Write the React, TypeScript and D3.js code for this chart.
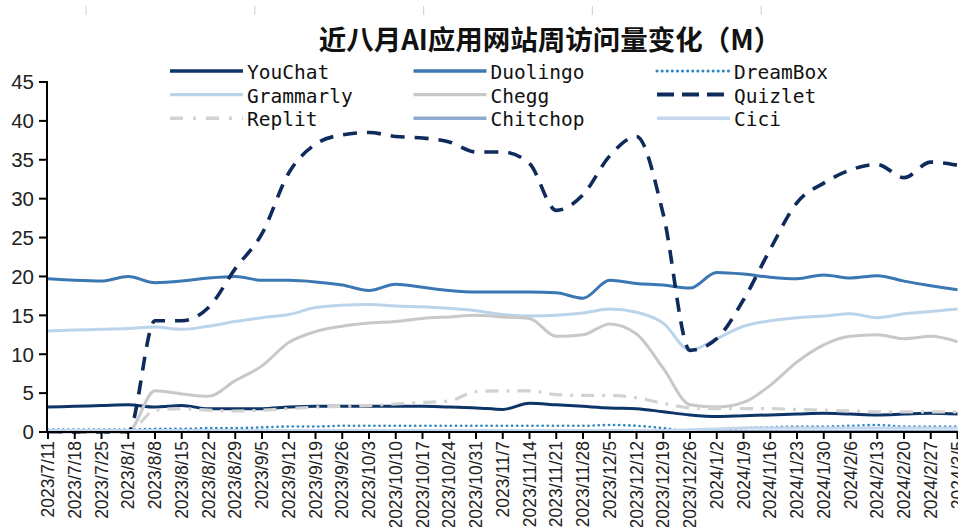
import * as d3 from "d3";

const dates = [
  "2023/7/11", "2023/7/18", "2023/7/25", "2023/8/1", "2023/8/8", "2023/8/15", "2023/8/22",
  "2023/8/29", "2023/9/5", "2023/9/12", "2023/9/19", "2023/9/26", "2023/10/3", "2023/10/10",
  "2023/10/17", "2023/10/24", "2023/10/31", "2023/11/7", "2023/11/14", "2023/11/21", "2023/11/28",
  "2023/12/5", "2023/12/12", "2023/12/19", "2023/12/26", "2024/1/2", "2024/1/9", "2024/1/16",
  "2024/1/23", "2024/1/30", "2024/2/6", "2024/2/13", "2024/2/20", "2024/2/27", "2024/3/5",
];

const youChat = [3.2, 3.3, 3.4, 3.5, 3.2, 3.4, 3.0, 3.0, 3.0, 3.2, 3.3, 3.3, 3.3, 3.3, 3.3, 3.2, 3.1, 2.9, 3.7, 3.5, 3.3, 3.1, 3.0, 2.6, 2.2, 2.0, 2.1, 2.2, 2.3, 2.4, 2.3, 2.2, 2.3, 2.4, 2.3];
const duolingo = [19.7, 19.5, 19.4, 20.0, 19.2, 19.4, 19.8, 20.0, 19.5, 19.5, 19.3, 18.9, 18.2, 19.0, 18.6, 18.2, 18.0, 18.0, 18.0, 17.9, 17.2, 19.5, 19.1, 18.9, 18.5, 20.5, 20.3, 19.9, 19.7, 20.2, 19.8, 20.1, 19.4, 18.8, 18.3];
const dreamBox = [0.3, 0.3, 0.3, 0.3, 0.4, 0.4, 0.5, 0.5, 0.6, 0.7, 0.7, 0.8, 0.8, 0.8, 0.8, 0.8, 0.8, 0.8, 0.8, 0.8, 0.8, 0.9, 0.8, 0.5, 0.1, 0.2, 0.5, 0.6, 0.7, 0.7, 0.8, 0.9, 0.7, 0.7, 0.7];
const grammarly = [13.0, 13.1, 13.2, 13.3, 13.5, 13.2, 13.6, 14.2, 14.7, 15.1, 16.0, 16.3, 16.4, 16.2, 16.1, 15.9, 15.6, 15.1, 14.9, 15.0, 15.3, 15.8, 15.4, 14.0, 10.5, 12.0, 13.6, 14.3, 14.7, 14.9, 15.2, 14.7, 15.2, 15.5, 15.8];
const chegg = [0, 0, 0, 0.1, 5.3, 4.9, 4.6, 6.6, 8.5, 11.5, 12.9, 13.6, 14.0, 14.2, 14.6, 14.8, 15.0, 14.8, 14.6, 12.3, 12.5, 13.9, 12.6, 8.2, 3.5, 3.2, 3.8, 6.0, 9.0, 11.2, 12.3, 12.5, 12.0, 12.3, 11.6];
const quizlet = [0, 0, 0, 0, 14.3, 14.3, 16.0, 21.0, 25.5, 33.3, 37.0, 38.2, 38.5, 38.0, 37.8, 37.3, 36.0, 36.0, 34.5, 28.5, 30.5, 35.5, 38.0, 28.0, 10.5, 12.0, 17.0, 23.5, 29.5, 32.0, 33.7, 34.4, 32.7, 34.7, 34.3];
const replit = [0, 0, 0, 0, 2.8, 3.0, 2.8, 2.7, 2.8, 3.0, 3.2, 3.3, 3.4, 3.6, 3.8, 4.0, 5.2, 5.3, 5.3, 4.8, 4.7, 4.7, 4.4, 3.7, 3.1, 3.0, 3.0, 3.0, 2.9, 2.8, 2.7, 2.6, 2.6, 2.6, 2.6];
const chitchop = [0.05, 0.05, 0.05, 0.05, 0.05, 0.05, 0.05, 0.05, 0.05, 0.05, 0.05, 0.05, 0.05, 0.05, 0.05, 0.05, 0.05, 0.05, 0.05, 0.05, 0.05, 0.05, 0.05, 0.05, 0.05, 0.05, 0.05, 0.05, 0.05, 0.05, 0.05, 0.05, 0.05, 0.05, 0.05];
const cici = [0.2, 0.2, 0.2, 0.2, 0.2, 0.2, 0.2, 0.2, 0.2, 0.2, 0.2, 0.2, 0.2, 0.2, 0.2, 0.2, 0.2, 0.2, 0.2, 0.2, 0.2, 0.2, 0.2, 0.2, 0.3, 0.4, 0.5, 0.5, 0.5, 0.5, 0.5, 0.5, 0.5, 0.5, 0.5];

const yTicks = [0, 5, 10, 15, 20, 25, 30, 35, 40, 45];

type Series = { name: string; values: number[]; color: string; width: number; dash?: string; cap?: string };

const series: Series[] = [
  { name: "YouChat", values: youChat, color: "#0d3567", width: 3 },
  { name: "Duolingo", values: duolingo, color: "#3b77b3", width: 3 },
  { name: "DreamBox", values: dreamBox, color: "#2e86c1", width: 2.6, dash: "0.1 5", cap: "round" },
  { name: "Grammarly", values: grammarly, color: "#bcd4ea", width: 3 },
  { name: "Chegg", values: chegg, color: "#c8c8c8", width: 3 },
  { name: "Quizlet", values: quizlet, color: "#0f2b5b", width: 3.6, dash: "14 10" },
  { name: "Replit", values: replit, color: "#d2d2d2", width: 3.2, dash: "13 8 3 8" },
  { name: "Chitchop", values: chitchop, color: "#8faad0", width: 3 },
  { name: "Cici", values: cici, color: "#c5d7ec", width: 3 },
];

const W = 958;
const H = 527;

export default function App() {
  const x = d3.scalePoint<string>().domain(dates).range([48, 957.5]);
  const y = d3.scaleLinear().domain([0, 45]).range([432, 82]);

  const line = d3
    .line<number>()
    .x((_, i) => x(dates[i]) as number)
    .y((d) => y(d))
    .curve(d3.curveMonotoneX);

  const legendCol = (i: number) => 170 + (i % 3) * 243.5;
  const legendRow = (i: number) => 71 + Math.floor(i / 3) * 23.6;

  return (
    <svg width={W} height={H} style={{ position: "absolute", left: 0, top: 0, background: "#fff" }}>
      {/* faint marks from the chart above, cropped */}
      {d3.range(5).map((i) => (
        <line key={i} x1={86 + i * 168.8} x2={86 + i * 168.8} y1={6} y2={15} stroke="#d6d6d6" strokeWidth={1.2} />
      ))}

      <text
        x={550}
        y={50}
        textAnchor="middle"
        fontFamily="'Noto Sans CJK SC', sans-serif"
        fontWeight="bold"
        fontSize={27.5}
        fill="#111"
      >
        近八月AI应用网站周访问量变化（M）
      </text>

      {/* series */}
      <g>
        {series.map((s) => (
          <path
            key={s.name}
            d={line(s.values) ?? ""}
            fill="none"
            stroke={s.color}
            strokeWidth={s.width}
            strokeDasharray={s.dash}
            strokeLinecap={(s.cap as any) ?? "butt"}
            strokeLinejoin="round"
          />
        ))}
      </g>

      {/* y axis */}
      <g>
        <line x1={47} x2={47} y1={y(45) - 1} y2={y(0) + 1} stroke="#000" strokeWidth={2} />
        {yTicks.map((t) => (
          <g key={t}>
            <line x1={39} x2={47} y1={y(t)} y2={y(t)} stroke="#000" strokeWidth={2} />
            <text
              x={34}
              y={y(t)}
              dy="0.36em"
              textAnchor="end"
              fontFamily="'Liberation Sans', Arial, sans-serif"
              fontSize={20.5}
              fill="#222"
            >
              {t}
            </text>
          </g>
        ))}
      </g>

      {/* x axis */}
      <g>
        <line x1={46} x2={W} y1={y(0)} y2={y(0)} stroke="#000" strokeWidth={2} />
        {dates.map((d) => (
          <g key={d} transform={`translate(${x(d)},0)`}>
            <line x1={0} x2={0} y1={y(0)} y2={y(0) + 7} stroke="#000" strokeWidth={2} />
            <text
              transform={`translate(0,${y(0) + 9}) rotate(-90)`}
              dy="0.35em"
              textAnchor="end"
              fontFamily="'Liberation Sans', Arial, sans-serif"
              fontSize={17.5}
              fill="#222"
            >
              {d}
            </text>
          </g>
        ))}
      </g>

      {/* legend */}
      <g>
        {series.map((s, i) => (
          <g key={s.name} transform={`translate(${legendCol(i)},${legendRow(i)})`}>
            <line
              x1={0}
              x2={73}
              y1={0}
              y2={0}
              stroke={s.color}
              strokeWidth={s.width + 0.4}
              strokeDasharray={s.name === "Quizlet" ? "17 8" : s.name === "Replit" ? "13 10 3 10" : s.dash}
              strokeLinecap={(s.cap as any) ?? "butt"}
            />
            <text
              x={77}
              y={8}
              fontFamily="'DejaVu Sans Mono', monospace"
              fontSize={19.5}
              fill="#111"
            >
              {s.name}
            </text>
          </g>
        ))}
      </g>
    </svg>
  );
}
